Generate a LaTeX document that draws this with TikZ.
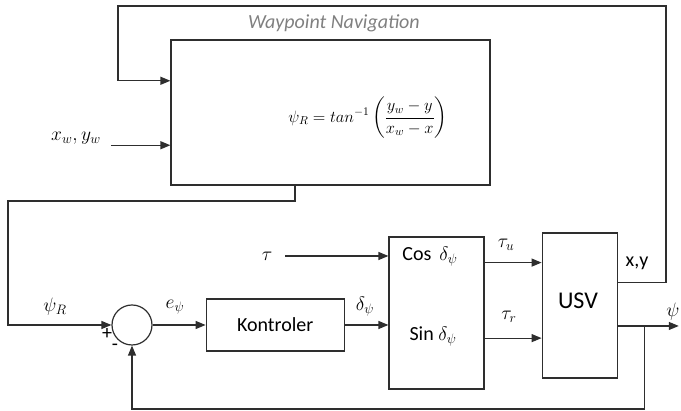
\RequirePackage{fix-cm}
\documentclass[tikz,border=0pt]{standalone}
\usepackage{amsmath}
\usepackage{fontspec}
\setmainfont{Carlito}
\usetikzlibrary{arrows.meta, positioning, calc}
\definecolor{lineGray}{HTML}{2E2E2E}
\definecolor{navGray}{HTML}{808080}
\tikzset{
  arrowK/.style={-{Triangle[length=10pt,width=8pt]}, lineGray, line width=1.2pt},
  boxK/.style={rectangle, draw=lineGray, line width=1.2pt, fill=white,
               align=center, inner sep=0pt},
  sumK/.style={circle, draw=lineGray, line width=1.2pt, minimum size=40pt, inner sep=0pt},
  lblK/.style={inner sep=0pt},
  mathK/.style={inner sep=0pt, font=\fontsize{19.5}{23}\selectfont},
}

\begin{document}
\begin{tikzpicture}[x=1pt, y=1pt, font=\fontsize{20}{24}\selectfont]
  \useasboundingbox (0,0) rectangle (681,411);
  % blok navigasi
  \node[boxK, minimum width=319pt, minimum height=145pt] (nav) at (330.5,298.5) {};
  \node[lblK, font=\fontsize{16.5}{20}\selectfont] (eq) at (368,293)
    {$\displaystyle \psi_R = tan^{-1}\left(\frac{y_w-y}{x_w-x}\right)$};
  \node[lblK, text=navGray, font=\itshape\fontsize{20}{24}\selectfont] (navT) at (334,388) {Waypoint Navigation};
  \node[mathK] (xw) at (76,273) {$x_w, y_w$};
  % baris bawah
  \node[sumK] (sum) at (132,86) {};
  \node[boxK, minimum width=138pt, minimum height=52pt, right=53pt of sum] (kont) {Kontroler};
  \node[boxK, minimum width=95pt, minimum height=152pt] (cs) at (436.5,98) {};
  \node[boxK, minimum width=75pt, minimum height=145pt, right=57pt of cs, yshift=7.5pt] (usv) {};
  \node[lblK, font=\fontsize{24}{28}\selectfont] (usvT) at (578,110) {USV};
  \node[lblK] (cosT) at (430,154) {Cos~\,\fontsize{19.5}{23}\selectfont$\delta_\psi$};
  \node[lblK] (sinT) at (433,75) {Sin~\fontsize{19.5}{23}\selectfont$\delta_\psi$};
  \node[mathK] (tau) at (267,155) {$\tau$};
  % label sinyal
  \node[mathK] (psiR) at (55,104) {$\psi_R$};
  \node[mathK] (epsi) at (175,104) {$e_\psi$};
  \node[mathK] (dpsi) at (365,104) {$\delta_\psi$};
  \node[mathK] (tauU) at (506,166) {$\tau_u$};
  \node[mathK] (tauR) at (509,94) {$\tau_r$};
  \node[lblK] (xyT) at (637,148) {x,y};
  \node[mathK] (psiT) at (673,99) {$\psi$};
  \node[lblK] (plus) at (107,77) {+};
  \node[lblK] (minus) at (115,64) {-};
  % titik bantu
  \coordinate (navIn1) at ($(nav.north west)!0.283!(nav.south west)$);
  \coordinate (navIn2) at ($(nav.north west)!0.724!(nav.south west)$);
  \coordinate (navOut) at ([xshift=-35.5pt]nav.south);
  \coordinate (leftB) at (8,210);
  \coordinate (topR) at (666,405);
  \coordinate (topL) at (118,405);
  \coordinate (csU) at ($(cs.north east)!0.171!(cs.south east)$);
  \coordinate (csR) at ($(cs.north east)!0.664!(cs.south east)$);
  \coordinate (xyOut) at ($(usv.north east)!0.345!(usv.south east)$);
  \coordinate (psiOut) at ($(usv.north east)!0.64!(usv.south east)$);
  % penghubung
  \draw[arrowK] (xyOut) -| (topR) -- (topL) |- (navIn1);
  \draw[arrowK] ([xshift=10pt]xw.east |- navIn2) -- (navIn2);
  \draw[arrowK] (navOut) |- (leftB) |- (sum.west);
  \draw[arrowK] (sum) -- (kont);
  \draw[arrowK] (kont.east) -- (kont.east -| cs.west);
  \draw[arrowK] ([xshift=18pt]tau.center) -- (tau -| cs.west);
  \draw[arrowK] (csU) -- (csU -| usv.west);
  \draw[arrowK] (csR) -- (csR -| usv.west);
  \draw[arrowK] (psiOut) -- ++(61,0);
  \draw[arrowK] ([xshift=27pt]psiOut) -- ++(0,-83) -| (sum.south);
\end{tikzpicture}
\end{document}
